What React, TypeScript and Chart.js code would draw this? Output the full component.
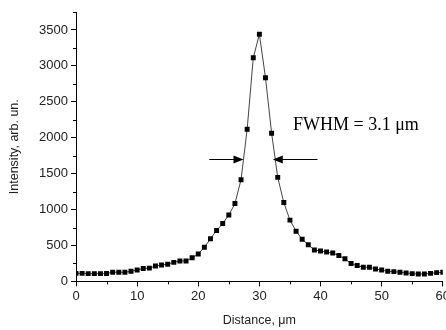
import React, { useEffect, useRef } from "react";
import { Chart, registerables } from "chart.js";

Chart.register(...registerables);

const distance: number[] = Array.from({ length: 61 }, (_, i) => i);
const intensity: number[] = [
  112, 112, 108, 108, 108, 110, 127, 127, 127, 141,
  159, 180, 185, 213, 227, 240, 265, 285, 285, 328,
  382, 474, 595, 708, 806, 923, 1083, 1416, 2119, 3112,
  3440, 2836, 2063, 1448, 1097, 853, 699, 586, 511, 436,
  422, 408, 394, 361, 314, 248, 220, 197, 197, 173,
  159, 141, 136, 127, 118, 108, 103, 103, 112, 122,
  127,
];
const xTicks: number[] = [0, 10, 20, 30, 40, 50, 60];
const xMinorTicks: number[] = [5, 15, 25, 35, 45, 55];
const yTicks: number[] = [0, 500, 1000, 1500, 2000, 2500, 3000, 3500];
const yMinorTicks: number[] = [250, 750, 1250, 1750, 2250, 2750, 3250, 3750];
const arrowLevel = 1700;
const leftArrow: number[] = [21.8, 27.4];
const rightArrow: number[] = [39.5, 32.2];
const labelText = "FWHM = 3.1 \u03bcm";
const labelPos: number[] = [35.5, 2170];

const overlayPlugin = {
  id: "overlay",
  afterDraw(chart: any) {
    const ctx = chart.ctx;
    const xs = chart.scales.x;
    const ys = chart.scales.y;
    ctx.save();
    ctx.strokeStyle = "#000";
    ctx.lineWidth = 1;
    ctx.beginPath();
    for (const v of yMinorTicks) {
      const py = Math.round(ys.getPixelForValue(v)) + 0.5;
      ctx.moveTo(xs.left - 3, py);
      ctx.lineTo(xs.left, py);
    }
    for (const v of xMinorTicks) {
      const px = Math.round(xs.getPixelForValue(v)) + 0.5;
      ctx.moveTo(px, ys.bottom);
      ctx.lineTo(px, ys.bottom + 3);
    }
    ctx.stroke();
    const ay = Math.round(ys.getPixelForValue(arrowLevel)) + 0.5;
    const drawArrow = (from: number, to: number) => {
      const fx = xs.getPixelForValue(from);
      const tx = xs.getPixelForValue(to);
      const dir = tx > fx ? 1 : -1;
      ctx.strokeStyle = "#000";
      ctx.beginPath();
      ctx.moveTo(fx, ay);
      ctx.lineTo(tx - dir * 6, ay);
      ctx.stroke();
      ctx.fillStyle = "#000";
      ctx.beginPath();
      ctx.moveTo(tx, ay);
      ctx.lineTo(tx - dir * 10, ay - 4);
      ctx.lineTo(tx - dir * 10, ay + 4);
      ctx.closePath();
      ctx.fill();
    };
    drawArrow(leftArrow[0], leftArrow[1]);
    drawArrow(rightArrow[0], rightArrow[1]);
    ctx.fillStyle = "#000";
    ctx.font = "18px 'Liberation Serif', 'Times New Roman', serif";
    ctx.textAlign = "left";
    ctx.textBaseline = "middle";
    ctx.fillText(labelText, xs.getPixelForValue(labelPos[0]), ys.getPixelForValue(labelPos[1]));
    ctx.restore();
  },
};

export default function App() {
  const ref = useRef<HTMLCanvasElement | null>(null);
  useEffect(() => {
    document.body.style.margin = "0";
    if (!ref.current) return;
    const chart = new Chart(ref.current, {
      type: "line",
      data: {
        labels: distance,
        datasets: [
          {
            data: distance.map((d, i) => ({ x: d, y: intensity[i] })),
            borderColor: "#444",
            borderWidth: 1,
            pointStyle: "rect",
            pointRadius: 3.5,
            pointBackgroundColor: "#000",
            pointBorderWidth: 0,
            tension: 0,
          },
        ],
      },
      options: {
        animation: false,
        responsive: false,
        devicePixelRatio: 1,
        layout: { padding: { top: 12, right: 0, left: 7, bottom: 2 } },
        plugins: { legend: { display: false }, tooltip: { enabled: false } },
        scales: {
          x: {
            type: "linear",
            min: 0,
            max: 60,
            afterBuildTicks: (s: any) => {
              s.ticks = xTicks.map((v) => ({ value: v }));
            },
            ticks: {
              color: "#222",
              font: { family: "'Liberation Sans', Arial, sans-serif", size: 13 },
              padding: 2,
              maxRotation: 0,
              callback: (v: any) => String(v),
            },
            grid: { drawOnChartArea: false, tickLength: 5, color: "#000" },
            border: { color: "#000", width: 1 },
            title: {
              display: true,
              text: "Distance, \u03bcm",
              color: "#222",
              font: { family: "'Liberation Sans', Arial, sans-serif", size: 12.5 },
              padding: { top: 7, bottom: 0 },
            },
          },
          y: {
            type: "linear",
            min: 0,
            max: 3750,
            afterBuildTicks: (s: any) => {
              s.ticks = yTicks.map((v) => ({ value: v }));
            },
            afterFit: (s: any) => {
              s.width = 69;
            },
            ticks: {
              color: "#222",
              font: { family: "'Liberation Sans', Arial, sans-serif", size: 13 },
              padding: 3,
              callback: (v: any) => String(v),
            },
            grid: { drawOnChartArea: false, tickLength: 5, color: "#000" },
            border: { color: "#000", width: 1 },
            title: {
              display: true,
              text: "Intensity, arb. un.",
              color: "#222",
              font: { family: "'Liberation Sans', Arial, sans-serif", size: 12.5 },
              padding: { top: 0, bottom: 4 },
            },
          },
        },
      },
      plugins: [overlayPlugin],
    });
    return () => chart.destroy();
  }, []);
  return (
    <div style={{ width: 446, height: 330, overflow: "hidden" }}>
      <canvas ref={ref} width={452} height={330} style={{ display: "block" }} />
    </div>
  );
}
